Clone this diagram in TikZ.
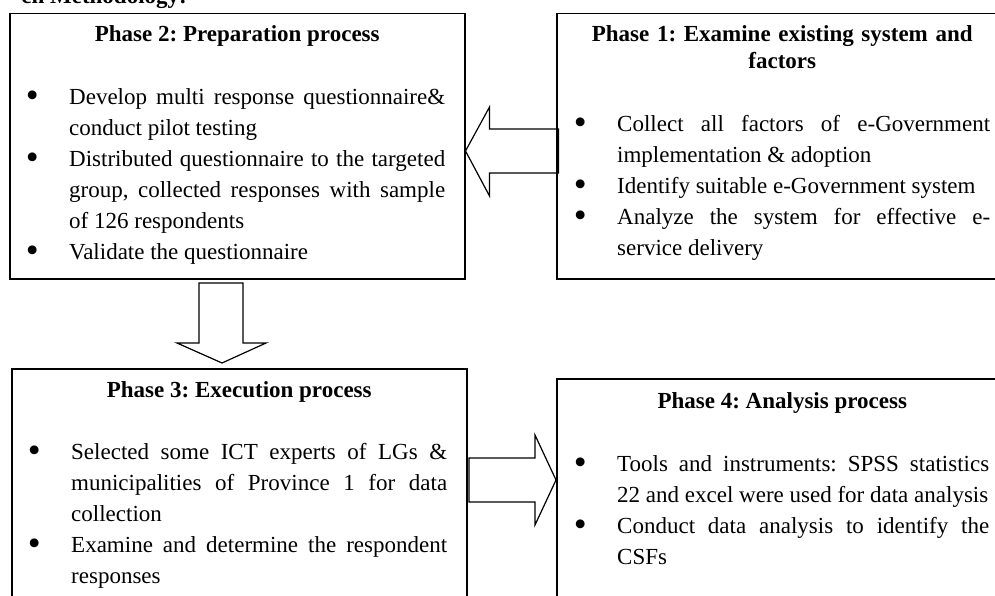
\documentclass[tikz,border=0pt]{standalone}
\usepackage{fontspec}
\setmainfont{Liberation Serif}
\usetikzlibrary{calc}
\tolerance=9999
\hbadness=10000
\hyphenpenalty=10000
\frenchspacing
\tikzset{
 box/.style={draw=black, line width=1.5pt, inner sep=0pt, anchor=north west},
 blk/.style={draw=black, line width=1.2pt, line join=miter},
 ttl/.style={font=\bfseries\fontsize{23}{27}\selectfont, inner sep=0pt},
 lst/.style={font=\fontsize{23}{31}\selectfont, inner sep=0pt, anchor=north west, align=justify},
}
\newcommand{\bigbul}{\smash{\raisebox{-3pt}{\scalebox{1.6}{\textbullet}}}}
\newcommand{\bitem}[1]{\par\noindent\hangindent=43pt\hangafter=1\strut\makebox[43pt][l]{\makebox[12pt][c]{\bigbul}}#1\par}
\begin{document}
\frenchspacing
\begin{tikzpicture}[x=1pt,y=-1pt]
\useasboundingbox (0,0) rectangle (995,596);
\clip (0,0) rectangle (995,596);
% heading (cut off at top)
\node[font=\bfseries\fontsize{23}{27}\selectfont, anchor=base east, inner sep=0pt] (hd) at (187,4) {ch Methodology:};
% boxes
\node[box, minimum width=455pt, minimum height=265pt] (p2) at (9,13) {};
\node[box, minimum width=451pt, minimum height=265pt] (p1) at (556,13) {};
\node[box, minimum width=455pt, minimum height=260pt] (p3) at (11,368) {};
\node[box, minimum width=451pt, minimum height=250pt] (p4) at (556,378) {};
% titles
\node[ttl, anchor=base] (t2) at (p2.north |- 0,42) {Phase 2: Preparation process};
\node[ttl, anchor=north, text width=420pt, align=center] (t1) at (p1.north |- 0,22.1) {\strut Phase 1: Examine existing system and\\factors};
\node[ttl, anchor=base] (t3) at (p3.north |- 0,397) {Phase 3: Execution process};
\node[ttl, anchor=base] (t4) at (p4.north |- 0,408) {Phase 4: Analysis process};
% lists
\node[lst, text width=419pt] (l2) at (26,73.3) {%
\bitem{Develop multi response questionnaire\&\linebreak conduct pilot testing}%
\bitem{Distributed questionnaire to the targeted\linebreak group, collected responses with sample\linebreak of 126 respondents}%
\bitem{Validate the questionnaire}};
\node[lst, text width=416pt] (l1) at (574,100.3) {%
\bitem{Collect all factors of e-Government\linebreak implementation \& adoption}%
\bitem{Identify suitable e-Government system}%
\bitem{Analyze the system for effective e-\linebreak service delivery}};
\node[lst, text width=419pt] (l3) at (28,428.3) {%
\bitem{Selected some ICT experts of LGs \&\linebreak municipalities of Province 1 for data\linebreak collection}%
\bitem{Examine and determine the respondent\linebreak responses}};
\node[lst, text width=415pt] (l4) at (574,440.3) {%
\bitem{Tools and instruments: SPSS statistics\linebreak 22 and excel were used for data analysis}%
\bitem{Conduct data analysis to identify the\linebreak CSFs}};
% block arrows
\coordinate (ltip) at (p2.east |- 0,151);
\draw[blk] (ltip) -- +(24,-44) -- +(24,-22) -- +(93,-22) -- +(93,22) -- +(24,22) -- +(24,45) -- cycle;
\coordinate (dtip) at ($(p3.north west)+(211,-5)$);
\draw[blk] (dtip) -- +(-45,-20) -- +(-23,-20) -- +(-23,-80) -- +(21,-80) -- +(21,-20) -- +(44,-20) -- cycle;
\coordinate (rtip) at (p4.west |- 0,480);
\draw[blk] (rtip) -- +(-21,-45) -- +(-21,-22) -- +(-87,-22) -- +(-87,22) -- +(-21,22) -- +(-21,45) -- cycle;
\end{tikzpicture}
\end{document}
